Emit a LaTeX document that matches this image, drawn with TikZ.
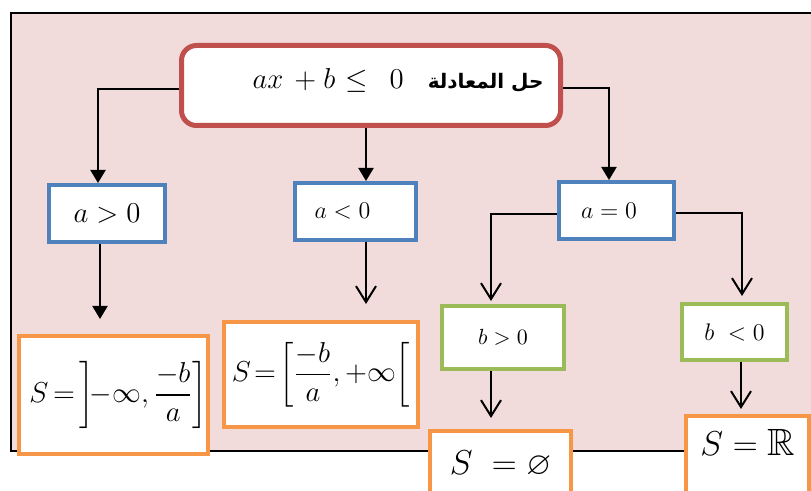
\documentclass[tikz,border=0pt]{standalone}
\usepackage{amsmath,amssymb}
\usepackage{fontspec}
\newfontfamily\arabicfont[Script=Arabic]{DejaVu Sans}
\TeXXeTstate=1
\usepackage{xcolor}
\usetikzlibrary{positioning,arrows.meta,calc}
\definecolor{bgpink}{HTML}{F2DCDB}
\definecolor{redbd}{HTML}{C0504D}
\definecolor{bluebd}{HTML}{4F81BD}
\definecolor{greenbd}{HTML}{9BBB59}
\definecolor{orangebd}{HTML}{F79646}

\begin{document}
\begin{tikzpicture}[x=0.5pt, y=-0.5pt,
  box/.style={draw, fill=white, line width=2pt, inner sep=0pt, align=center},
  topbox/.style={box, draw=redbd, rounded corners=7.5pt, line width=2.5pt},
  condbox/.style={box, draw=bluebd},
  subbox/.style={box, draw=greenbd},
  resbox/.style={box, draw=orangebd},
  arr/.style={-{Triangle[length=6.5pt,width=7.5pt]}, line width=1pt},
  openarr/.style={-{Straight Barb[length=8pt,width=10pt]}, line width=1pt}]
\useasboundingbox (0,0) rectangle (811,491);
\clip (0,0) rectangle (811,491);
\draw[fill=bgpink, line width=1pt] (11,13) rectangle (840,451);
% equation
\node[topbox, minimum width=189.5pt, minimum height=40pt, text height=10pt, text depth=6.5pt, font=\fontsize{14}{16}\selectfont] (top) at (371,85.5)
  {\hspace*{27pt}$ax\hspace{5.5pt}{+}\hspace{3.5pt}b\hspace{5pt}{\le}\hspace{11pt}0$\hspace{12pt}{\fontsize{10}{12}\selectfont\arabicfont\bfseries\beginR حل المعادلة\endR}};
% cases on a
\node[condbox, minimum width=58pt, minimum height=28.5pt, font=\fontsize{15}{18}\selectfont] (apos) at (107,213.5) {$a>0$};
\node[condbox, minimum width=60.5pt, minimum height=28.5pt, font=\fontsize{13}{15}\selectfont] (aneg) at (355.5,211.5) {$a<0$\hspace*{13pt}};
\node[condbox, minimum width=57.5pt, minimum height=28.5pt, font=\fontsize{13}{15}\selectfont] (azero) at (616.5,210.5) {$a=0$\hspace*{7.5pt}};
% cases on b
\node[subbox, minimum width=61pt, minimum height=31.5pt, font=\fontsize{11}{13}\selectfont] (bpos) at (503,337.5) {$b>0$};
\node[subbox, minimum width=52.5pt, minimum height=28pt, font=\fontsize{13}{15}\selectfont] (bneg) at (734.5,332) {$b\;<0$};
% solution sets
\node[resbox, minimum width=91.5pt, minimum height=59pt, font=\fontsize{14}{17}\selectfont] (resone) at (113.5,395)
  {\hspace*{5pt}$\thickmuskip=3mu S=\left]\!{-}\infty,\dfrac{-b}{a}\right]$};
\node[resbox, minimum width=97pt, minimum height=52.5pt, font=\fontsize{13.5}{16}\selectfont] (restwo) at (321,374.5)
  {$\thickmuskip=2mu S=\left[\dfrac{-b}{a},{+}\infty\right[$};
\node[resbox, minimum width=70.5pt, minimum height=33pt, font=\fontsize{16}{19}\selectfont] (sempty) at (500.5,464) {$S\ =\varnothing$};
\node[resbox, minimum width=61.5pt, text height=20pt, text depth=20.5pt, font=\fontsize{19}{22}\selectfont] (sreal) at (747.5,456.5) {$S=\mathbb{R}$};
% connectors
\draw[arr] ([yshift=-1.75pt]top.west) -| ([xshift=-4.5pt]apos.north);
\draw[arr] ([xshift=-2.5pt]top.south) -- ([xshift=5.25pt]aneg.north);
\draw[arr] ([yshift=-1.25pt]top.east) -| ([xshift=-3.75pt]azero.north);
\draw[arr, shorten >=7.5pt] ([xshift=-3.5pt]apos.south) -- ([xshift=-6.75pt]resone.north);
\draw[openarr, shorten >=8pt] ([xshift=5.25pt]aneg.south) -- ([xshift=22.5pt]restwo.north);
\draw[openarr, shorten >=1.5pt] ([yshift=-1.75pt]azero.west) -| ([xshift=-6pt]bpos.north);
\draw[openarr, shorten >=3pt] ([yshift=-1.25pt]azero.east) -| ([xshift=3.75pt]bneg.north);
\draw[openarr, shorten >=5.5pt] ([xshift=-6pt]bpos.south) -- ([xshift=-4.75pt]sempty.north);
\draw[openarr, shorten >=2.5pt] ([xshift=3.25pt]bneg.south) -- ([xshift=-3.25pt]sreal.north);
\end{tikzpicture}
\end{document}
